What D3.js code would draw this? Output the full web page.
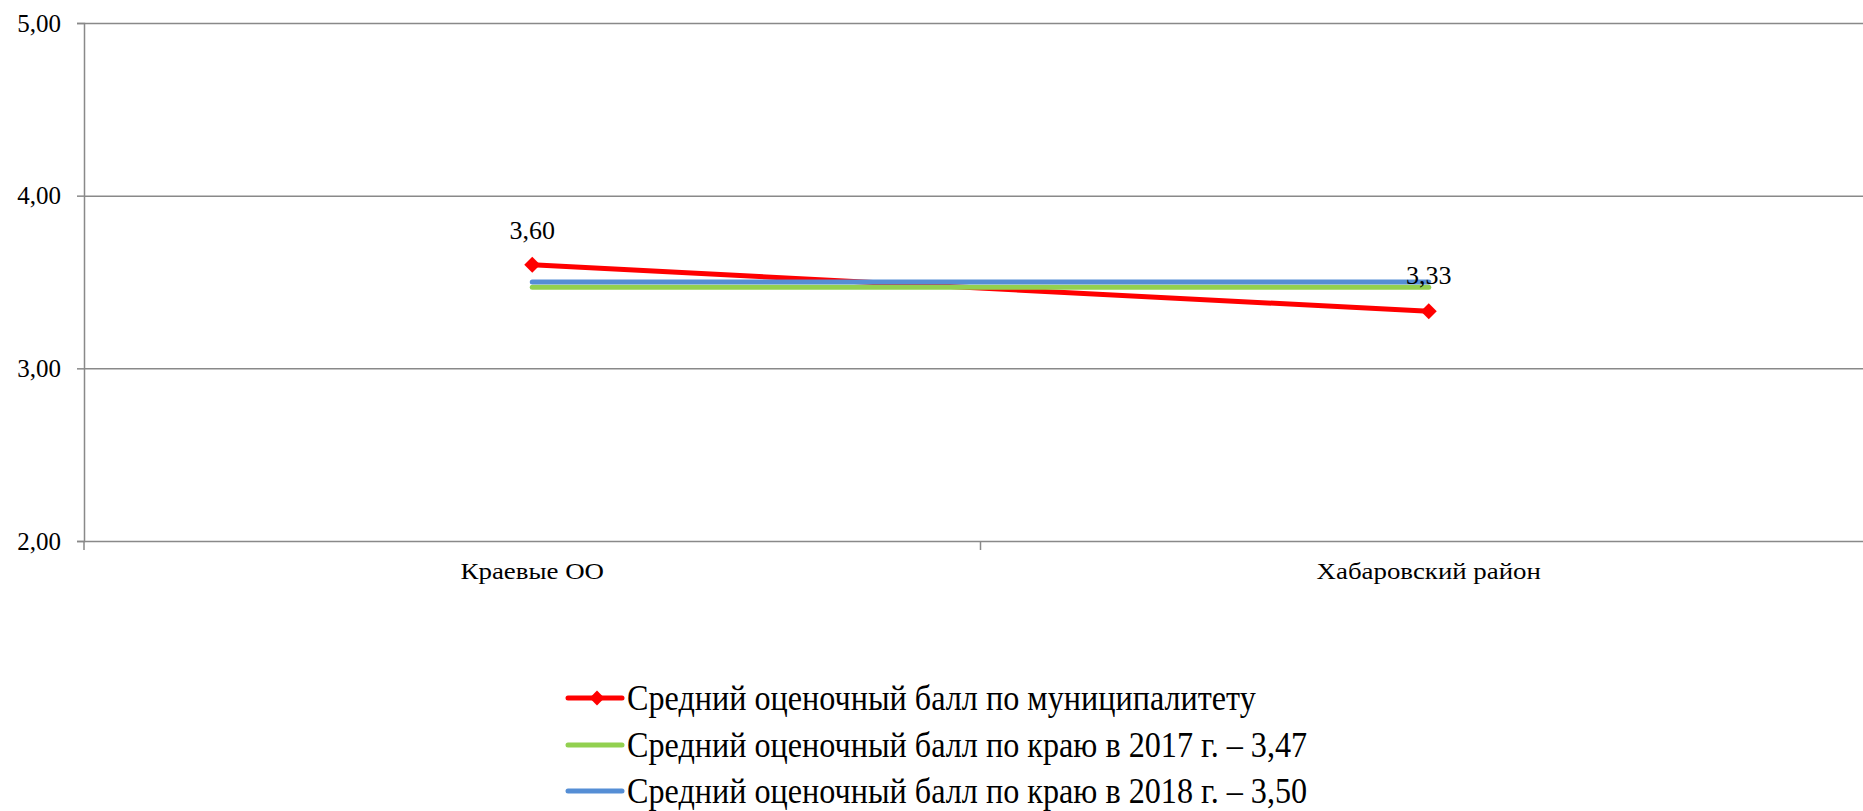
<!DOCTYPE html>
<html>
<head>
<meta charset="utf-8">
<script src="https://cdn.jsdelivr.net/npm/d3@7"></script>
<style>
  body { margin: 0; background: #fff; }
  svg text { font-family: "Liberation Serif", "Times New Roman", Times, "DejaVu Serif", serif; }
</style>
</head>
<body>
<svg id="chart" width="1863" height="811"></svg>
<script>
// chart data
const categories = ["Краевые ОО", "Хабаровский район"];
const municipal = [3.60, 3.33];
const region2017 = [3.47, 3.47];
const region2018 = [3.50, 3.50];
const seriesNames = [
  "Средний оценочный балл по муниципалитету",
  "Средний оценочный балл по краю в 2017 г. – 3,47",
  "Средний оценочный балл по краю в 2018 г. – 3,50"
];
const yTicks = [2, 3, 4, 5];

const series = [
  { name: seriesNames[0], values: municipal, color: "#ff0000", marker: true },
  { name: seriesNames[1], values: region2017, color: "#92d050", marker: false },
  { name: seriesNames[2], values: region2018, color: "#558ed5", marker: false }
];

const serif = "Liberation Serif, Times New Roman, serif";
const svg = d3.select("#chart").attr("font-family", serif);
const plot = { left: 84, right: 1877, top: 23, bottom: 541 };

const x = d3.scalePoint().domain(categories).range([plot.left, plot.right]).padding(0.5);
const y = d3.scaleLinear().domain([2, 5]).range([plot.bottom, plot.top]);
const fmt = (v) => d3.format(".2f")(v).replace(".", ",");

// gridlines + y axis
const yAxis = d3.axisLeft(y).tickValues(yTicks).tickSize(7).tickPadding(16).tickFormat(fmt);
const gy = svg.append("g")
  .attr("transform", `translate(${plot.left},0)`)
  .call(yAxis)
  .attr("font-family", serif)
  .attr("font-size", 25);
gy.select(".domain").attr("stroke", "#898989").attr("stroke-width", 1.5);
gy.selectAll(".tick line").attr("stroke", "#898989").attr("stroke-width", 1.5);
gy.selectAll(".tick text").attr("fill", "#000");
gy.selectAll(".tick")
  .append("line")
  .attr("x1", 0)
  .attr("x2", plot.right - plot.left)
  .attr("stroke", "#898989")
  .attr("stroke-width", 1.5);

// x axis ticks between categories
const boundaries = [plot.left, (x(categories[0]) + x(categories[1])) / 2, plot.right];
svg.append("g")
  .selectAll("line")
  .data(boundaries)
  .join("line")
  .attr("x1", (d) => d)
  .attr("x2", (d) => d)
  .attr("y1", plot.bottom)
  .attr("y2", plot.bottom + 9)
  .attr("stroke", "#898989")
  .attr("stroke-width", 1.5);

svg.append("g")
  .selectAll("text")
  .data(categories)
  .join("text")
  .attr("text-anchor", "middle")
  .attr("font-size", 24)
  .attr("transform", (d) => `translate(${x(d)},579) scale(1.12,1)`)
  .text((d) => d);

// series lines
const line = d3.line()
  .x((d, i) => x(categories[i]))
  .y((d) => y(d));

const diamond = d3.symbol().type(d3.symbolSquare).size(128);

series.forEach((s) => {
  const g = svg.append("g");
  g.append("path")
    .datum(s.values)
    .attr("d", line)
    .attr("fill", "none")
    .attr("stroke", s.color)
    .attr("stroke-width", 5)
    .attr("stroke-linecap", "round");
  if (s.marker) {
    g.selectAll("path.mk")
      .data(s.values)
      .join("path")
      .attr("class", "mk")
      .attr("d", diamond)
      .attr("fill", s.color)
      .attr("transform", (d, i) => `translate(${x(categories[i])},${y(d)}) rotate(45)`);
  }
});

// data labels for municipal series
svg.append("g")
  .selectAll("text")
  .data(municipal)
  .join("text")
  .attr("x", (d, i) => x(categories[i]))
  .attr("y", (d, i) => (i === 0 ? y(d) - 26 : y(d) - 27))
  .attr("text-anchor", "middle")
  .attr("font-size", 26)
  .text((d) => fmt(d));

// legend
const legend = svg.append("g").attr("transform", "translate(568,0)");
const rowY = [698, 745, 791];
series.forEach((s, i) => {
  const row = legend.append("g").attr("transform", `translate(0,${rowY[i]})`);
  row.append("line")
    .attr("x1", 0).attr("x2", 54)
    .attr("stroke", s.color)
    .attr("stroke-width", 5)
    .attr("stroke-linecap", "round");
  if (s.marker) {
    row.append("path")
      .attr("d", d3.symbol().type(d3.symbolSquare).size(110))
      .attr("fill", s.color)
      .attr("transform", "translate(29,0) rotate(45)");
  }
  row.append("text")
    .attr("dy", 12)
    .attr("font-size", 35)
    .attr("transform", "translate(59,0) scale(0.92,1)")
    .text(s.name);
});
</script>
</body>
</html>
